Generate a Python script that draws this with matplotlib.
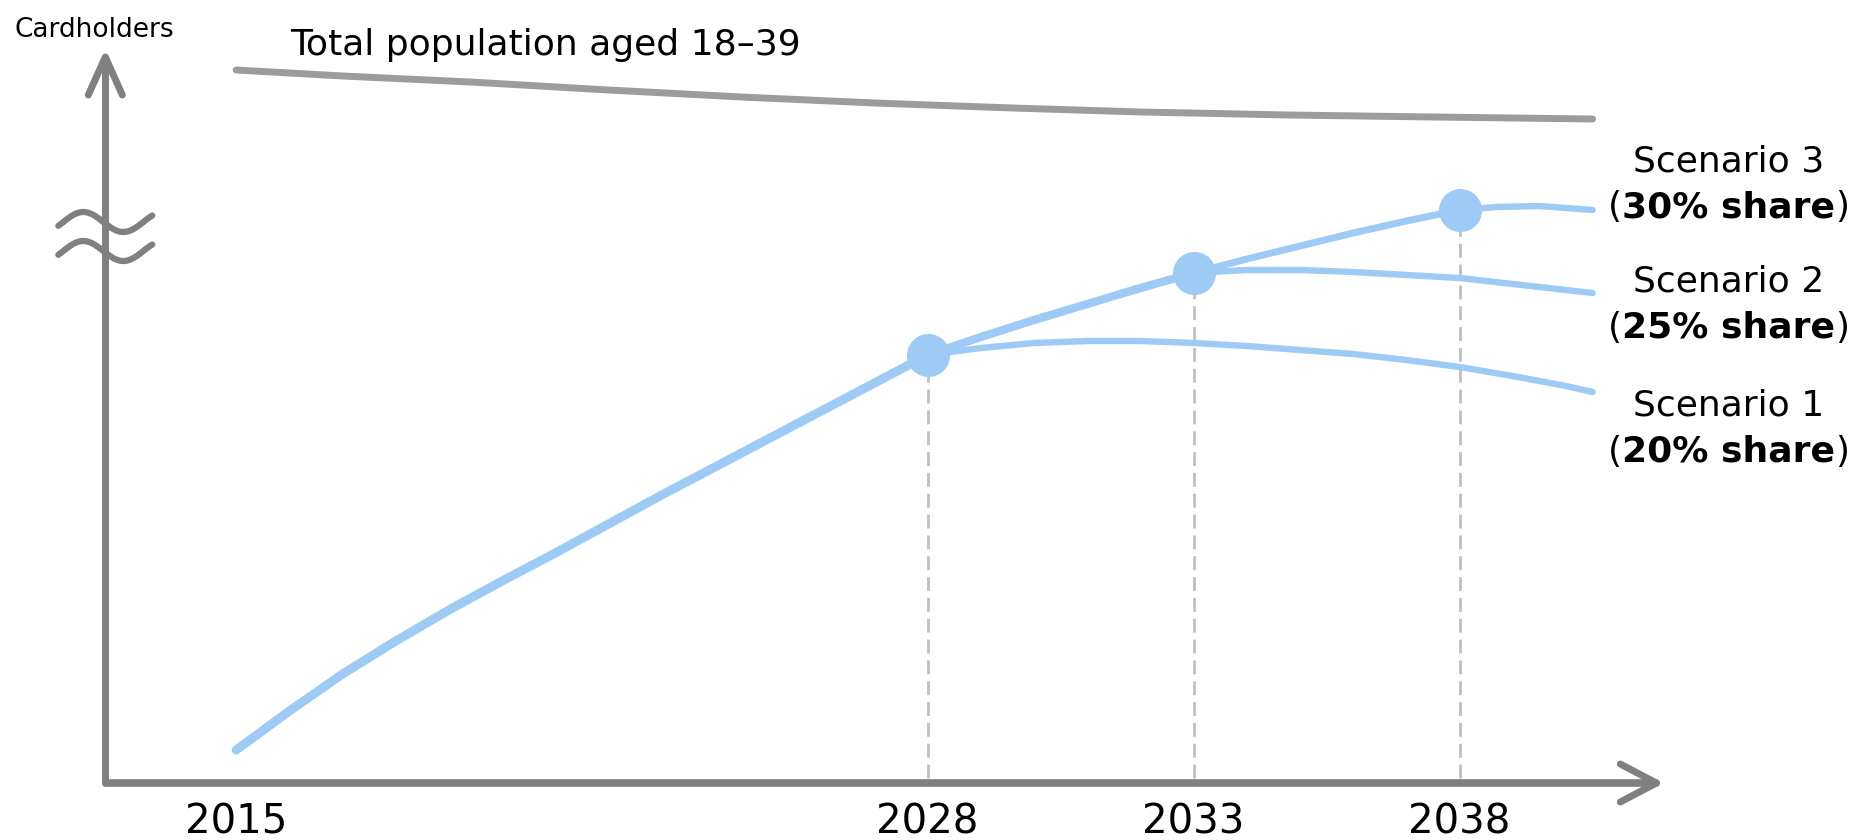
import numpy as np
import matplotlib.pyplot as plt

# --- data (arbitrary index units) ---
base_years = [2015, 2016, 2017, 2018, 2019, 2020, 2021, 2022, 2023, 2024, 2025, 2026, 2027, 2028,
              2029, 2030, 2031, 2032, 2033, 2034, 2035, 2036, 2037, 2038]
base_vals = [3.3, 7.2, 10.9, 14.2, 17.3, 20.2, 23.0, 25.9, 28.8, 31.6, 34.4, 37.2, 40.0, 42.8,
             44.6, 46.3, 47.9, 49.5, 51.0, 52.4, 53.7, 55.0, 56.2, 57.3]

s1_years = [2028, 2029, 2030, 2031, 2032, 2033, 2034, 2035, 2036, 2037, 2038, 2039, 2040, 2040.5]
s1_vals = [42.8, 43.5, 44.0, 44.2, 44.2, 44.0, 43.7, 43.3, 42.9, 42.3, 41.6, 40.7, 39.7, 39.1]

s2_years = [2033, 2034, 2035, 2036, 2037, 2038, 2039, 2040, 2040.5]
s2_vals = [51.0, 51.3, 51.3, 51.1, 50.8, 50.5, 49.9, 49.3, 49.0]

s3_years = [2038, 2038.7, 2039.5, 2040.5]
s3_vals = [57.3, 57.6, 57.7, 57.3]

pop_years = [2015, 2017, 2019.4, 2022, 2024.5, 2027, 2029.6, 2032, 2034.8, 2037.5, 2040.5]
pop_vals = [71.3, 70.7, 70.1, 69.3, 68.6, 68.0, 67.5, 67.1, 66.8, 66.6, 66.4]

milestones = [2028, 2033, 2038]
tick_years = [2015, 2028, 2033, 2038]
scen_names = ['Scenario 1', 'Scenario 2', 'Scenario 3']
scen_shares = ['20% share', '25% share', '30% share']

# --- style ---
BLUE = '#9dcbf6'
GREY = '#808080'
POP_GREY = '#9c9c9c'
DASH = '#c0c0c0'

fig = plt.figure(figsize=(18.66, 8.4), dpi=100)
ax = fig.add_axes([0, 0, 1, 1])
ax.set_xlim(2010.56, 2045.64)
ax.set_ylim(-5.7, 78.3)
ax.axis('off')

# axes with open arrow heads
x_ax = 2012.54
x_tip = 2041.7
y_tip = 72.6
ax.plot([2012.57, x_tip], [0, 0], color=GREY, lw=5.5, solid_capstyle='round', zorder=2)
ax.plot([x_tip - 0.68, x_tip, x_tip - 0.68], [1.9, 0, -1.9], color=GREY, lw=5,
        solid_capstyle='round', solid_joinstyle='round', zorder=2)
ax.plot([x_ax, x_ax], [0, y_tip], color=GREY, lw=5, solid_capstyle='round', zorder=2)
ax.plot([x_ax - 0.32, x_ax, x_ax + 0.32], [y_tip - 3.8, y_tip, y_tip - 3.8], color=GREY, lw=5,
        solid_capstyle='round', solid_joinstyle='round', zorder=2)

# axis break mark
dx = np.linspace(-47, 47, 80)
wave = 1.0 * np.sin(2 * np.pi * (dx + 42) / 80)
for yc in [56.1, 53.2]:
    ax.plot(x_ax + dx / 53.2, yc + wave, color=GREY, lw=4.5, solid_capstyle='round', zorder=3)

# total population
ax.plot(pop_years, pop_vals, color=POP_GREY, lw=5, solid_capstyle='round', zorder=3)

# dashed drop lines
by = np.array(base_years)
bv = np.array(base_vals)
for yr in milestones:
    v = bv[by == yr][0]
    ax.plot([yr, yr], [0.5, v], color=DASH, lw=2, dashes=(5, 2.5), zorder=1)

# scenario tails
for yrs, vals in [(s1_years, s1_vals), (s2_years, s2_vals), (s3_years, s3_vals)]:
    ax.plot(yrs, vals, color=BLUE, lw=4.6, solid_capstyle='round', zorder=4)

# shared trunk (overlapping lines look thicker)
for (a, b), lw in zip([(2015, 2028), (2028, 2033), (2033, 2038)], [6.5, 6, 5]):
    m = (by >= a) & (by <= b)
    ax.plot(by[m], bv[m], color=BLUE, lw=lw, solid_capstyle='round', zorder=4)

# milestone dots
ax.plot(milestones, [bv[by == yr][0] for yr in milestones], 'o', color=BLUE, ms=31,
        mec='none', zorder=5)

# texts
ax.text(2010.83, 74.6, 'Cardholders', fontsize=19, va='baseline', ha='left')
ax.text(2016.02, 72.8, 'Total population aged 18–39', fontsize=26, va='baseline', ha='left')

for yr in tick_years:
    ax.text(yr, -5.0, str(yr), fontsize=29, ha='center', va='baseline')

label_x = 2043.05
name_y = [36.8, 49.1, 61.1]
share_y = [32.1, 44.5, 56.6]
for name, share, ny, sy in zip(scen_names, scen_shares, name_y, share_y):
    ax.text(label_x, ny, name, fontsize=26, ha='center', va='baseline')
    mid = ax.text(label_x, sy, share, fontsize=26, ha='center', va='baseline',
                  fontweight='bold')
    ax.annotate('(', xy=(0, 0), xycoords=mid, fontsize=26, ha='right', va='bottom')
    ax.annotate(')', xy=(1, 0), xycoords=mid, fontsize=26, ha='left', va='bottom')

fig.savefig('out.png', dpi=100, facecolor='white')
